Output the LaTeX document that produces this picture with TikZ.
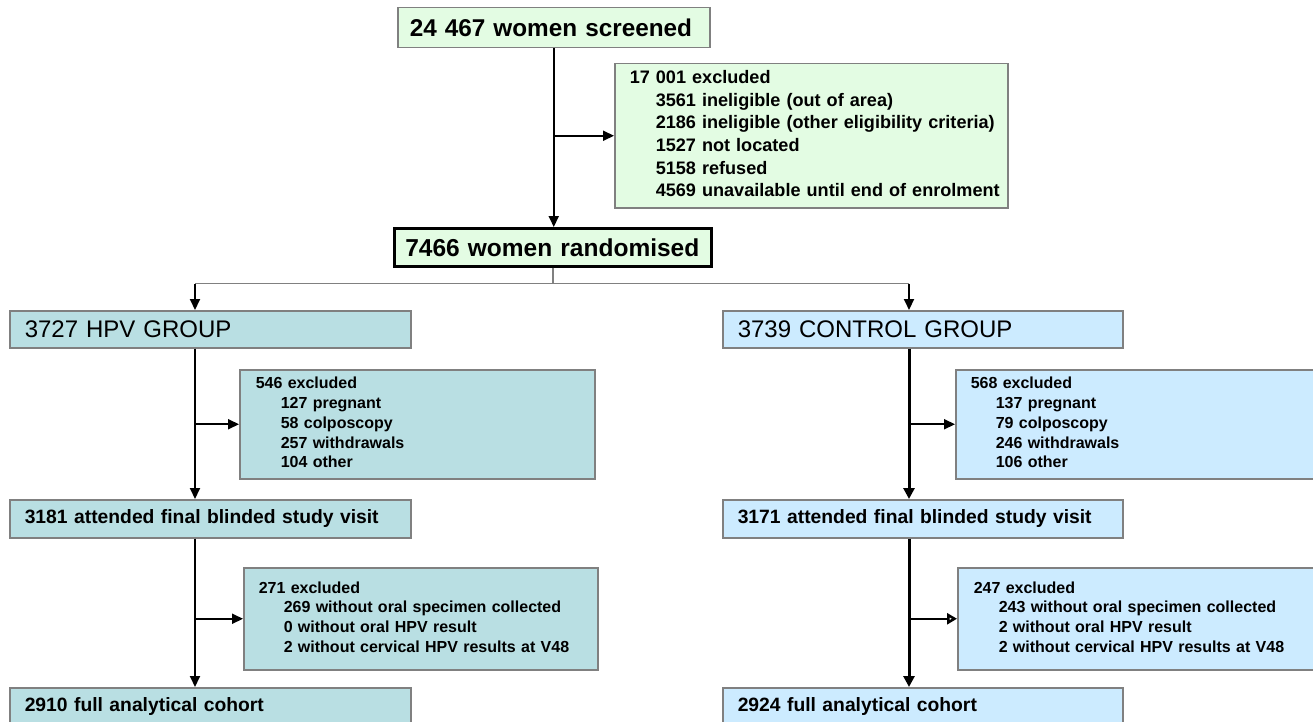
\documentclass[tikz,border=0pt]{standalone}
\usepackage{fontspec}
\setmainfont{Liberation Sans}
\usetikzlibrary{arrows.meta}
\definecolor{gfill}{HTML}{E3FCE3}
\definecolor{tfill}{HTML}{B9DFE3}
\definecolor{bfill}{HTML}{CCEBFF}
\definecolor{bord}{HTML}{808080}
\newcommand{\subind}{\hspace*{26pt}}
\newcommand{\subinds}{\hspace*{25pt}}
\newcommand{\textlines}[1]{\begin{tabular}{@{}l@{}}#1\end{tabular}}
\hfuzz=200pt
\tikzset{
  box/.style={draw=bord, line width=1.5pt, anchor=north west, inner ysep=0pt, align=left},
  bigbold/.style={font=\fontsize{24.3}{29}\selectfont\bfseries},
  grp/.style={font=\fontsize{24}{29}\selectfont},
  midbold/.style={font=\fontsize{19.3}{23}\selectfont\bfseries},
  exbig/.style={font=\fontsize{18.1}{22.6}\selectfont\bfseries},
  exsmall/.style={font=\fontsize{16}{19.8}\selectfont\bfseries},
  arr/.style={line width=2pt, -{Triangle[length=11pt,width=10pt]}},
  arrc/.style={line width=3pt, -{Triangle[length=11pt,width=11pt]}},
  arrco/.style={line width=2.5pt, -{Triangle[open,length=10pt,width=11pt]}},
  split/.style={draw=bord, line width=1.5pt},
}
\begin{document}
\begin{tikzpicture}[x=1pt,y=-1pt]
\useasboundingbox (0,0) rectangle (1313,722);
\fill[white] (0,0) rectangle (1313,722);
\clip (0,0) rectangle (1313,722);

% top
\node[box, fill=gfill, bigbold, inner xsep=12pt, text width=288pt, minimum height=40pt] (scr) at (397,7) {24 467 women screened};
\node[box, fill=gfill, exbig, inner xsep=15pt, text width=363pt, minimum height=144pt] (ex0) at (614,63)
 {\textlines{17 001 excluded\\
  \subind 3561 ineligible (out of area)\\
  \subind 2186 ineligible (other eligibility criteria)\\
  \subind 1527 not located\\
  \subind 5158 refused\\
  \subind 4569 unavailable until end of enrolment}};
\node[box, draw=black, line width=2.5pt, fill=gfill, font=\fontsize{24.5}{29}\selectfont\bfseries, inner xsep=11pt, text width=295pt, minimum height=38pt] (rand) at (393,227) {7466 women randomised};

% groups
\node[box, fill=tfill, grp, inner xsep=15pt, text width=371pt, minimum height=37pt] (hpv) at (9,310) {3727 HPV GROUP};
\node[box, fill=bfill, grp, inner xsep=15pt, text width=370pt, minimum height=37pt] (ctl) at (722,310) {3739 CONTROL GROUP};

% first exclusions
\node[box, fill=tfill, exsmall, inner xsep=16pt, text width=323pt, minimum height=109pt] (ex1) at (239,369)
 {\textlines{546 excluded\\
  \subinds 127 pregnant\\
  \subinds 58 colposcopy\\
  \subinds 257 withdrawals\\
  \subinds 104 other}};
\node[box, fill=bfill, exsmall, inner xsep=15pt, text width=340pt, minimum height=109pt] (ex2) at (955,369)
 {\textlines{568 excluded\\
  \subinds 137 pregnant\\
  \subinds 79 colposcopy\\
  \subinds 246 withdrawals\\
  \subinds 106 other}};

% attended
\node[box, fill=tfill, midbold, inner xsep=15pt, text width=371pt, minimum height=38pt] (att1) at (9,499) {3181 attended final blinded study visit};
\node[box, fill=bfill, midbold, inner xsep=15pt, text width=370pt, minimum height=38pt] (att2) at (722,499) {3171 attended final blinded study visit};

% second exclusions
\node[box, fill=tfill, exsmall, inner xsep=15pt, text width=324pt, minimum height=102pt] (ex3) at (243,567)
 {\textlines{271 excluded\\
  \subinds 269 without oral specimen collected\\
  \subinds 0 without oral HPV result\\
  \subinds 2 without cervical HPV results at V48}};
\node[box, fill=bfill, exsmall, inner xsep=16pt, text width=338pt, minimum height=102pt] (ex4) at (957,567)
 {\textlines{247 excluded\\
  \subinds 243 without oral specimen collected\\
  \subinds 2 without oral HPV result\\
  \subinds 2 without cervical HPV results at V48}};

% final
\node[box, fill=tfill, midbold, inner xsep=15pt, text width=371pt, minimum height=38pt] (fin1) at (9,687) {2910 full analytical cohort};
\node[box, fill=bfill, midbold, inner xsep=15pt, text width=370pt, minimum height=38pt] (fin2) at (722,687) {2924 full analytical cohort};

% column coordinates
\coordinate (hx) at (195,0);
\coordinate (cx) at (909,0);

% top connectors
\draw[arr] (scr.south) -- (scr.south |- rand.north);
\draw[arr] (scr.south |- ex0.west) -- (ex0.west);

% split
\draw[split] (rand.south) -- ++(0,16) coordinate (sp);
\draw[split] (hx |- sp) -- (cx |- sp);
\draw[arr] (hx |- sp) -- (hx |- hpv.north);
\draw[arr] (cx |- sp) -- (cx |- ctl.north);

% HPV column
\draw[arr] (hx |- hpv.south) -- (hx |- att1.north);
\draw[arr] (hx |- ex1.west) -- (ex1.west);
\draw[arr] (hx |- att1.south) -- (hx |- fin1.north);
\draw[arr] (hx |- ex3.west) -- (ex3.west);

% control column
\draw[arrc] (cx |- ctl.south) -- (cx |- att2.north);
\draw[arr] (cx |- ex2.west) -- (ex2.west);
\draw[arrc] (cx |- att2.south) -- (cx |- fin2.north);
\draw[arrco] (cx |- ex4.west) -- (ex4.west);
\end{tikzpicture}
\end{document}
